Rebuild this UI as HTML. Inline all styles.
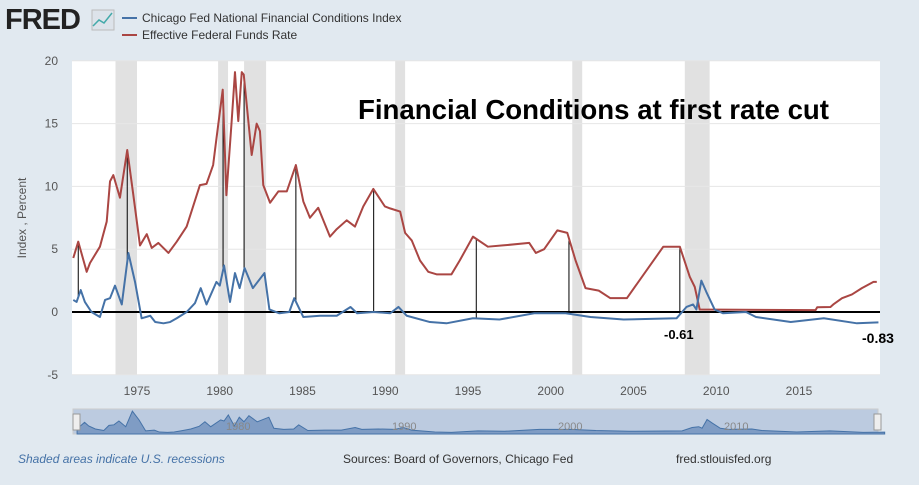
<!DOCTYPE html>
<html><head><meta charset="utf-8"><style>
body{margin:0;background:#e1e9f0;font-family:"Liberation Sans",sans-serif}
svg text{font-family:"Liberation Sans",sans-serif}
</style></head><body>
<svg width="919" height="480">
<rect width="919" height="480" fill="#e1e9f0"/>
<text x="5" y="29" font-size="29" font-weight="bold" fill="#222" letter-spacing="-1">FRED</text>
<rect x="92" y="10" width="22" height="20" fill="#dde3ea" stroke="#bbb"/>
<polyline points="93,26 99,20 104,23 112,13" fill="none" stroke="#4aa" stroke-width="1.5"/>
<line x1="122" y1="18" x2="137" y2="18" stroke="#4572a7" stroke-width="2"/>
<text x="142" y="22" font-size="12" fill="#333">Chicago Fed National Financial Conditions Index</text>
<line x1="122" y1="35" x2="137" y2="35" stroke="#aa4643" stroke-width="2"/>
<text x="142" y="39" font-size="12" fill="#333">Effective Federal Funds Rate</text>
<rect x="72" y="61" width="808" height="314" fill="#fff"/>
<g id="rec"></g><g id="grid"></g><g id="vl"></g><g id="ser"></g><g id="axes"></g>
<text transform="translate(26,218) rotate(-90)" text-anchor="middle" font-size="12" fill="#555">Index , Percent</text>
<text x="358" y="119" font-size="28" font-weight="bold" fill="#000" textLength="471" lengthAdjust="spacingAndGlyphs">Financial Conditions at first rate cut</text>
<text x="664" y="339" font-size="13" font-weight="bold" fill="#000">-0.61</text>
<text x="862" y="343" font-size="14" font-weight="bold" fill="#000">-0.83</text>
<rect x="73" y="409" width="805" height="25" fill="#bccbe0" stroke="#ccc"/>
<g id="nav"></g>
<rect x="73" y="414" width="7" height="16" fill="#eee" stroke="#999"/>
<rect x="874" y="414" width="7" height="16" fill="#eee" stroke="#999"/>
<text x="18" y="463" font-size="12" font-style="italic" fill="#4572a7">Shaded areas indicate U.S. recessions</text>
<text x="343" y="463" font-size="12" fill="#333">Sources: Board of Governors, Chicago Fed</text>
<text x="676" y="463" font-size="12" fill="#333">fred.stlouisfed.org</text>
</svg>
<script>
const ffYears=[1971.15,1971.45,1971.96,1972.16,1972.76,1973.17,1973.37,1973.57,1973.97,1974.41,1974.78,1975.18,1975.59,1975.89,1976.29,1976.9,1977.4,1978.0,1978.8,1979.2,1979.6,1979.8,1980.18,1980.4,1980.72,1980.92,1981.12,1981.33,1981.45,1981.93,1982.23,1982.43,1982.63,1983.04,1983.54,1984.05,1984.6,1985.05,1985.45,1985.95,1986.66,1987.07,1987.67,1988.17,1988.67,1989.28,1989.98,1990.29,1990.9,1991.2,1991.6,1992.1,1992.6,1993.1,1994.0,1994.5,1995.3,1996.2,1997.1,1998.7,1999.1,1999.6,2000.4,2001.0,2001.5,2002.1,2002.9,2003.6,2004.6,2006.8,2007.8,2008.4,2008.7,2009.0,2016.0,2016.1,2016.9,2017.07,2017.6,2018.2,2018.8,2019.5,2019.7];
const ffValues=[4.3,5.6,3.2,3.9,5.2,7.2,10.4,10.9,9.1,12.9,9.3,5.3,6.2,5.1,5.5,4.7,5.6,6.8,10.1,10.2,11.7,13.8,17.7,9.3,15.2,19.1,15.2,19.1,18.9,12.5,15.0,14.4,10.1,8.7,9.6,9.6,11.7,8.8,7.5,8.3,6.0,6.6,7.3,6.8,8.4,9.8,8.4,8.25,8.0,6.3,5.7,4.1,3.2,3.0,3.0,4.1,6.0,5.2,5.3,5.5,4.7,5.0,6.5,6.3,4.1,1.9,1.7,1.1,1.1,5.2,5.2,2.8,2.0,0.2,0.15,0.38,0.4,0.6,1.1,1.4,1.9,2.4,2.4];
const nfYears=[1971.15,1971.35,1971.6,1971.85,1972.25,1972.76,1973.07,1973.37,1973.67,1974.08,1974.48,1974.88,1975.28,1975.8,1976.1,1976.6,1977.0,1977.4,1978.0,1978.5,1978.85,1979.2,1979.8,1980.0,1980.26,1980.62,1980.92,1981.2,1981.5,1982.0,1982.7,1983.0,1983.6,1984.2,1984.5,1985.05,1986.06,1987.07,1987.9,1988.3,1989.3,1990.3,1990.8,1991.3,1992.7,1993.7,1995.3,1996.9,1999.0,2000.9,2002.4,2004.4,2007.6,2008.2,2008.6,2008.8,2009.1,2009.4,2009.9,2010.4,2011.8,2012.4,2014.5,2016.5,2018.5,2019.8];
const nfValues=[0.96,0.8,1.75,0.8,0,-0.4,0.96,1.1,2.1,0.6,4.7,2.4,-0.5,-0.3,-0.8,-0.9,-0.8,-0.5,0,0.7,1.9,0.6,2.4,2.1,3.7,0.8,3.1,1.9,3.5,1.9,3.1,0.2,-0.1,0,1.1,-0.4,-0.3,-0.3,0.4,-0.1,0,-0.1,0.4,-0.3,-0.8,-0.9,-0.5,-0.6,-0.1,-0.1,-0.4,-0.6,-0.5,0.4,0.6,0.2,2.5,1.6,0.2,-0.1,0,-0.4,-0.8,-0.5,-0.9,-0.83];
const recStart=[1973.7,1979.9,1981.47,1990.6,2001.3,2008.1];
const recEnd=[1975.0,1980.5,1982.8,1991.2,2001.9,2009.6];
const cutYears=[1971.45,1974.41,1980.2,1981.47,1984.6,1989.3,1995.5,2001.1,2007.8];
const yTicks=[-5,0,5,10,15,20];
const xTicks=[1975,1980,1985,1990,1995,2000,2005,2010,2015];
const navTicks=[1980,1990,2000,2010];
const NS='http://www.w3.org/2000/svg';
const X=y=>137+(y-1975)*16.55, Y=v=>312-v*12.56;
function interp(xs,vs,t){for(let i=1;i<xs.length;i++)if(xs[i]>=t){const f=(t-xs[i-1])/(xs[i]-xs[i-1]);return vs[i-1]+f*(vs[i]-vs[i-1]);}return vs[vs.length-1];}
function mk(p,tag,a){const e=document.createElementNS(NS,tag);for(const k in a)e.setAttribute(k,a[k]);document.getElementById(p).appendChild(e);return e;}
recStart.forEach((s,i)=>{const e=mk('rec','rect',{x:X(s),y:61,width:X(recEnd[i])-X(s),height:314,fill:'#e1e1e1'});

});
yTicks.forEach(t=>{const l=mk('grid','line',{x1:72,x2:880,y1:Y(t),y2:Y(t),stroke:'#e6e6e6'});


const tx=mk('axes','text',{x:58,y:Y(t)+4,'text-anchor':'end','font-size':12,fill:'#555'});tx.textContent=t;

});
xTicks.forEach(t=>{const tx=mk('axes','text',{x:X(t),y:395,'text-anchor':'middle','font-size':12,fill:'#555'});tx.textContent=t;

});
cutYears.forEach(c=>{const l=mk('vl','line',{x1:X(c),x2:X(c),y1:Y(interp(nfYears,nfValues,c)),y2:Y(interp(ffYears,ffValues,c)),stroke:'#000','stroke-width':1});

});
const z=mk('ser','line',{x1:72,x2:880,y1:Y(0),y2:Y(0),stroke:'#000','stroke-width':2});


const ff=mk('ser','polyline',{points:ffYears.map((y,i)=>X(y)+','+Y(ffValues[i])).join(' '),fill:'none',stroke:'#aa4643','stroke-width':2,'stroke-linejoin':'round'});


const nf=mk('ser','polyline',{points:nfYears.map((y,i)=>X(y)+','+Y(nfValues[i])).join(' '),fill:'none',stroke:'#4572a7','stroke-width':2,'stroke-linejoin':'round'});


const NX=y=>224+(y-1980)*16.6, NY=v=>429-v*3.8;
const np=mk('nav','polygon',{points:NX(nfYears[0])+',434 '+nfYears.map((y,i)=>NX(y)+','+NY(nfValues[i])).join(' ')+' '+NX(nfYears[nfYears.length-1])+',434',fill:'#7f9cc4',stroke:'#4572a7'});


navTicks.forEach(t=>{const tx=mk('nav','text',{x:NX(t)+2,y:430,'font-size':11,fill:'#888'});tx.textContent=t;

});
</script>
</body></html>
